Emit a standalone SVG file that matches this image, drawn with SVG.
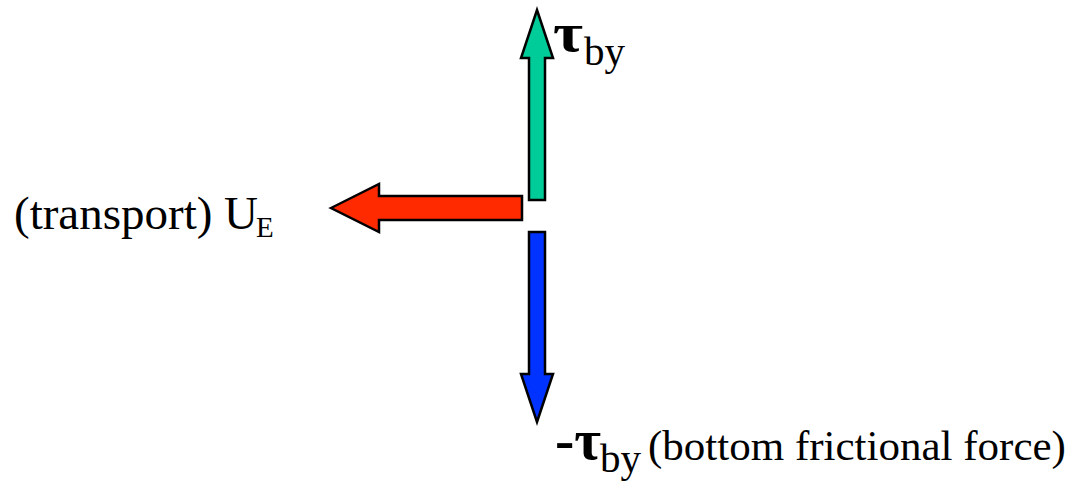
<svg xmlns="http://www.w3.org/2000/svg" width="1070" height="485" viewBox="0 0 1070 485">
<style>
.arr{stroke:#000;stroke-width:2.5;stroke-linejoin:miter}
.t{font-family:"Liberation Serif","Times New Roman",serif;fill:#000}
.tau{font-family:"Liberation Serif","Times New Roman",serif;font-weight:bold;fill:#000}
</style>
<rect width="1070" height="485" fill="#fff"/>
<g id="connectors">
<polygon id="arrow-up" class="arr" fill="#00CC99" points="537,10 553,58 545,58 545,200 529,200 529,58 521,58"/>
<polygon id="arrow-left" class="arr" fill="#FF2A00" points="331,208 379,184 379,196 522,196 522,220 379,220 379,232"/>
<polygon id="arrow-down" class="arr" fill="#0033FF" points="529,232 545,232 545,374 553,374 537,422 521,374 529,374"/>
</g>
<g id="label-tau-by">
<text class="tau" x="553" y="51" font-size="54" textLength="30" lengthAdjust="spacingAndGlyphs">τ</text>
<text class="t" x="584" y="65" font-size="41">by</text>
</g>
<g id="label-transport">
<text class="t" x="14" y="229" font-size="47">(transport) U</text>
<text class="t" x="256" y="237" font-size="29">E</text>
</g>
<g id="label-bottom">
<text class="tau" x="555" y="459" font-size="58">-τ</text>
<text class="t" x="600" y="472" font-size="41">by</text>
<text class="t" x="648" y="460" font-size="43">(bottom frictional force)</text>
</g>
</svg>
